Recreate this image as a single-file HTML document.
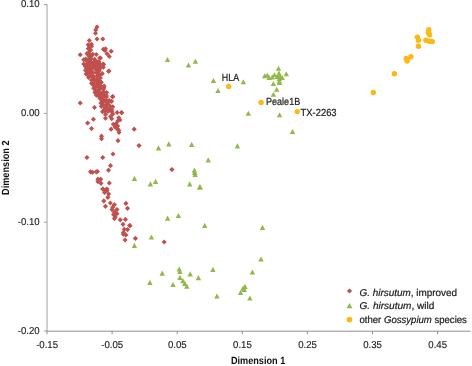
<!DOCTYPE html>
<html><head><meta charset="utf-8"><title>MDS plot</title>
<style>
html,body{margin:0;padding:0;background:#fff;}
body{width:472px;height:366px;overflow:hidden;font-family:"Liberation Sans",sans-serif;}
svg{display:block;}
text{font-family:"Liberation Sans",sans-serif;fill:#1c1c1c;text-rendering:geometricPrecision;}
.g{filter:grayscale(1);}
.t{font-size:10.0px;stroke:#1c1c1c;stroke-width:.15px;}
.b{font-size:10.4px;font-weight:bold;fill:#111;}
.l{font-size:9.9px;stroke:#1c1c1c;stroke-width:.22px;}
.d{font-size:10.3px;stroke:#1c1c1c;stroke-width:.22px;}
</style></head><body>
<svg width="472" height="366" viewBox="0 0 472 366">
<rect width="472" height="366" fill="#fff"/>
<g stroke="#A0A0A0" stroke-width="1" fill="none">
<path d="M47.0 4.1V331.7"/><path stroke="#8E8E8E" d="M46.5 331.2H470.5"/>
<path stroke="#8E8E8E" d="M47.0 331.2v3"/>
<path stroke="#8E8E8E" d="M112.1 331.2v3"/>
<path stroke="#8E8E8E" d="M177.2 331.2v3"/>
<path stroke="#8E8E8E" d="M242.3 331.2v3"/>
<path stroke="#8E8E8E" d="M307.4 331.2v3"/>
<path stroke="#8E8E8E" d="M372.5 331.2v3"/>
<path stroke="#8E8E8E" d="M437.6 331.2v3"/>
<path d="M47.0 4.6h-3.2"/>
<path d="M47.0 113.4h-3.2"/>
<path d="M47.0 222.2h-3.2"/>
<path d="M47.0 331.0h-3.2"/>
</g>
<g class="t g" text-anchor="middle">
<text x="47.1" y="348.3" textLength="21.9" lengthAdjust="spacingAndGlyphs">-0.15</text>
<text x="112.2" y="348.3" textLength="21.9" lengthAdjust="spacingAndGlyphs">-0.05</text>
<text x="177.3" y="348.3" textLength="18.7" lengthAdjust="spacingAndGlyphs">0.05</text>
<text x="242.4" y="348.3" textLength="18.7" lengthAdjust="spacingAndGlyphs">0.15</text>
<text x="307.5" y="348.3" textLength="18.7" lengthAdjust="spacingAndGlyphs">0.25</text>
<text x="372.6" y="348.3" textLength="18.7" lengthAdjust="spacingAndGlyphs">0.35</text>
<text x="437.7" y="348.3" textLength="18.7" lengthAdjust="spacingAndGlyphs">0.45</text>
</g><g class="t g" text-anchor="end">
<text x="39.6" y="7.4" textLength="18.7" lengthAdjust="spacingAndGlyphs">0.10</text>
<text x="39.6" y="116.2" textLength="18.7" lengthAdjust="spacingAndGlyphs">0.00</text>
<text x="39.6" y="225.0" textLength="21.9" lengthAdjust="spacingAndGlyphs">-0.10</text>
<text x="39.6" y="333.8" textLength="21.9" lengthAdjust="spacingAndGlyphs">-0.20</text>
</g>
<text class="b g" text-anchor="middle" x="258.1" y="364.1" textLength="54.4" lengthAdjust="spacingAndGlyphs">Dimension 1</text>
<text class="b g" text-anchor="middle" transform="translate(9.2 167.7) rotate(-90)" textLength="54.5" lengthAdjust="spacingAndGlyphs">Dimension 2</text>
<g fill="#C0504D"><path d="M97.0 24.6L99.5 27.1L97.0 29.7L94.5 27.1Z"/><path d="M95.7 27.3L98.2 29.9L95.7 32.4L93.2 29.9Z"/><path d="M95.5 30.7L98.0 33.3L95.5 35.8L93.0 33.3Z"/><path d="M97.0 36.4L99.5 38.9L97.0 41.4L94.5 38.9Z"/><path d="M102.8 36.4L105.3 38.9L102.8 41.4L100.2 38.9Z"/><path d="M89.3 37.9L91.8 40.4L89.3 42.9L86.8 40.4Z"/><path d="M103.3 46.8L105.8 49.3L103.3 51.8L100.8 49.3Z"/><path d="M105.0 48.1L107.5 50.6L105.0 53.1L102.5 50.6Z"/><path d="M105.5 46.2L108.0 48.8L105.5 51.3L103.0 48.8Z"/><path d="M111.2 48.8L113.8 51.3L111.2 53.8L108.7 51.3Z"/><path d="M107.1 51.2L109.6 53.7L107.1 56.2L104.5 53.7Z"/><path d="M109.3 53.9L111.8 56.4L109.3 58.9L106.8 56.4Z"/><path d="M80.2 52.2L82.8 54.8L80.2 57.3L77.7 54.8Z"/><path d="M96.3 52.0L98.8 54.5L96.3 57.0L93.8 54.5Z"/><path d="M100.5 55.5L103.0 58.0L100.5 60.5L98.0 58.0Z"/><path d="M103.5 62.0L106.0 64.5L103.5 67.0L101.0 64.5Z"/><path d="M102.8 62.0L105.3 64.6L102.8 67.1L100.2 64.6Z"/><path d="M108.9 68.5L111.5 71.1L108.9 73.6L106.4 71.1Z"/><path d="M99.5 55.5L102.0 58.0L99.5 60.5L97.0 58.0Z"/><path d="M83.7 57.2L86.2 59.7L83.7 62.2L81.2 59.7Z"/><path d="M103.3 61.5L105.8 64.0L103.3 66.5L100.8 64.0Z"/><path d="M103.3 64.8L105.8 67.3L103.3 69.8L100.8 67.3Z"/><path d="M108.6 68.8L111.1 71.3L108.6 73.8L106.0 71.3Z"/><path d="M112.6 94.2L115.1 96.8L112.6 99.3L110.0 96.8Z"/><path d="M96.4 92.8L99.0 95.3L96.4 97.8L93.9 95.3Z"/><path d="M112.8 94.0L115.3 96.6L112.8 99.1L110.2 96.6Z"/><path d="M94.5 105.0L97.0 107.6L94.5 110.1L92.0 107.6Z"/><path d="M80.2 100.5L82.8 103.0L80.2 105.5L77.7 103.0Z"/><path d="M121.5 109.9L124.0 112.4L121.5 115.0L119.0 112.4Z"/><path d="M117.1 109.9L119.6 112.4L117.1 115.0L114.5 112.4Z"/><path d="M112.8 111.4L115.3 113.9L112.8 116.5L110.2 113.9Z"/><path d="M105.5 111.9L108.0 114.4L105.5 117.0L103.0 114.4Z"/><path d="M105.5 115.7L108.0 118.2L105.5 120.8L103.0 118.2Z"/><path d="M110.6 114.0L113.1 116.6L110.6 119.1L108.0 116.6Z"/><path d="M111.7 116.2L114.2 118.8L111.7 121.3L109.2 118.8Z"/><path d="M118.8 115.2L121.3 117.7L118.8 120.2L116.2 117.7Z"/><path d="M119.9 117.4L122.5 119.9L119.9 122.5L117.4 119.9Z"/><path d="M117.7 118.5L120.2 121.0L117.7 123.5L115.2 121.0Z"/><path d="M93.4 116.8L96.0 119.3L93.4 121.8L90.9 119.3Z"/><path d="M87.6 120.5L90.1 123.1L87.6 125.6L85.0 123.1Z"/><path d="M91.5 126.0L94.0 128.6L91.5 131.2L89.0 128.6Z"/><path d="M113.3 121.7L115.8 124.2L113.3 126.8L110.8 124.2Z"/><path d="M116.0 121.2L118.5 123.7L116.0 126.2L113.5 123.7Z"/><path d="M117.7 123.4L120.2 125.9L117.7 128.5L115.2 125.9Z"/><path d="M115.0 124.5L117.5 127.0L115.0 129.6L112.5 127.0Z"/><path d="M117.1 126.0L119.6 128.6L117.1 131.2L114.5 128.6Z"/><path d="M118.8 127.8L121.3 130.3L118.8 132.9L116.2 130.3Z"/><path d="M111.1 126.6L113.6 129.2L111.1 131.8L108.5 129.2Z"/><path d="M119.0 129.9L121.5 132.5L119.0 135.1L116.5 132.5Z"/><path d="M101.5 133.6L104.0 136.2L101.5 138.8L99.0 136.2Z"/><path d="M101.5 136.1L104.0 138.7L101.5 141.2L99.0 138.7Z"/><path d="M118.0 138.1L120.5 140.7L118.0 143.2L115.5 140.7Z"/><path d="M113.0 151.4L115.5 154.0L113.0 156.6L110.5 154.0Z"/><path d="M86.9 154.9L89.5 157.5L86.9 160.1L84.4 157.5Z"/><path d="M102.8 154.9L105.3 157.5L102.8 160.1L100.2 157.5Z"/><path d="M110.5 163.1L113.0 165.7L110.5 168.2L108.0 165.7Z"/><path d="M108.5 167.6L111.0 170.2L108.5 172.8L106.0 170.2Z"/><path d="M90.5 169.2L93.0 171.8L90.5 174.4L88.0 171.8Z"/><path d="M92.5 169.8L95.0 172.3L92.5 174.9L90.0 172.3Z"/><path d="M96.2 169.2L98.8 171.8L96.2 174.4L93.7 171.8Z"/><path d="M97.5 168.9L100.0 171.5L97.5 174.1L95.0 171.5Z"/><path d="M97.9 176.6L100.5 179.2L97.9 181.8L95.4 179.2Z"/><path d="M100.7 176.6L103.2 179.2L100.7 181.8L98.2 179.2Z"/><path d="M97.9 179.0L100.5 181.6L97.9 184.2L95.4 181.6Z"/><path d="M101.0 180.8L103.5 183.3L101.0 185.9L98.5 183.3Z"/><path d="M109.3 180.4L111.8 183.0L109.3 185.6L106.8 183.0Z"/><path d="M102.8 186.4L105.3 189.0L102.8 191.6L100.2 189.0Z"/><path d="M106.9 186.4L109.5 189.0L106.9 191.6L104.4 189.0Z"/><path d="M103.0 186.4L105.5 189.0L103.0 191.6L100.5 189.0Z"/><path d="M105.4 187.4L108.0 190.0L105.4 192.6L102.9 190.0Z"/><path d="M107.0 188.1L109.5 190.7L107.0 193.2L104.5 190.7Z"/><path d="M104.6 189.8L107.1 192.4L104.6 195.0L102.0 192.4Z"/><path d="M108.7 191.4L111.2 194.0L108.7 196.6L106.2 194.0Z"/><path d="M107.9 194.8L110.5 197.3L107.9 199.9L105.4 197.3Z"/><path d="M103.8 198.3L106.3 200.9L103.8 203.5L101.2 200.9Z"/><path d="M105.4 203.8L108.0 206.3L105.4 208.9L102.9 206.3Z"/><path d="M110.3 200.4L112.8 203.0L110.3 205.6L107.8 203.0Z"/><path d="M114.4 202.1L117.0 204.7L114.4 207.2L111.9 204.7Z"/><path d="M112.8 204.5L115.3 207.1L112.8 209.7L110.2 207.1Z"/><path d="M112.0 207.0L114.5 209.6L112.0 212.2L109.5 209.6Z"/><path d="M116.9 207.0L119.5 209.6L116.9 212.2L114.4 209.6Z"/><path d="M114.4 209.4L117.0 212.0L114.4 214.6L111.9 212.0Z"/><path d="M116.9 211.1L119.5 213.7L116.9 216.2L114.4 213.7Z"/><path d="M113.6 211.9L116.1 214.5L113.6 217.1L111.0 214.5Z"/><path d="M115.2 214.4L117.8 217.0L115.2 219.6L112.7 217.0Z"/><path d="M114.4 216.0L117.0 218.6L114.4 221.2L111.9 218.6Z"/><path d="M125.9 200.8L128.5 203.4L125.9 206.0L123.4 203.4Z"/><path d="M127.5 205.8L130.1 208.3L127.5 210.9L125.0 208.3Z"/><path d="M120.2 217.2L122.8 219.8L120.2 222.4L117.7 219.8Z"/><path d="M125.4 216.8L128.0 219.4L125.4 222.0L122.9 219.4Z"/><path d="M123.0 221.8L125.5 224.3L123.0 226.9L120.5 224.3Z"/><path d="M129.7 222.9L132.2 225.5L129.7 228.1L127.1 225.5Z"/><path d="M124.3 226.8L126.8 229.3L124.3 231.9L121.8 229.3Z"/><path d="M127.5 227.0L130.1 229.6L127.5 232.2L125.0 229.6Z"/><path d="M123.4 229.9L126.0 232.5L123.4 235.1L120.9 232.5Z"/><path d="M125.9 232.4L128.5 235.0L125.9 237.6L123.4 235.0Z"/><path d="M123.4 231.6L126.0 234.2L123.4 236.8L120.9 234.2Z"/><path d="M125.1 237.4L127.6 240.0L125.1 242.6L122.5 240.0Z"/><path d="M135.4 235.8L138.0 238.4L135.4 241.0L132.8 238.4Z"/><path d="M164.2 239.4L166.8 242.0L164.2 244.6L161.6 242.0Z"/><path d="M130.0 223.1L132.6 225.7L130.0 228.2L127.5 225.7Z"/><path d="M121.8 110.2L124.3 112.8L121.8 115.3L119.2 112.8Z"/><path d="M134.2 126.6L136.8 129.2L134.2 131.8L131.6 129.2Z"/><path d="M139.0 143.0L141.6 145.6L139.0 148.2L136.4 145.6Z"/><path d="M171.9 167.0L174.5 169.6L171.9 172.2L169.3 169.6Z"/><path d="M88.1 42.2L90.7 44.7L88.1 47.3L85.6 44.7Z"/><path d="M91.5 41.7L94.0 44.3L91.5 46.8L88.9 44.3Z"/><path d="M89.5 43.6L92.1 46.2L89.5 48.7L87.0 46.2Z"/><path d="M91.5 43.7L94.1 46.2L91.5 48.8L89.0 46.2Z"/><path d="M88.3 46.1L90.8 48.7L88.3 51.2L85.7 48.7Z"/><path d="M90.7 47.5L93.2 50.0L90.7 52.6L88.1 50.0Z"/><path d="M88.9 49.9L91.4 52.5L88.9 55.0L86.3 52.5Z"/><path d="M87.0 51.0L89.5 53.5L87.0 56.1L84.4 53.5Z"/><path d="M89.7 52.1L92.2 54.6L89.7 57.2L87.1 54.6Z"/><path d="M92.8 51.8L95.4 54.3L92.8 56.9L90.3 54.3Z"/><path d="M88.8 53.3L91.3 55.8L88.8 58.4L86.2 55.8Z"/><path d="M90.9 54.2L93.5 56.8L90.9 59.3L88.4 56.8Z"/><path d="M85.6 56.5L88.1 59.0L85.6 61.6L83.0 59.0Z"/><path d="M88.2 56.8L90.8 59.4L88.2 61.9L85.7 59.4Z"/><path d="M90.8 56.5L93.4 59.0L90.8 61.6L88.3 59.0Z"/><path d="M94.6 56.7L97.1 59.3L94.6 61.8L92.0 59.3Z"/><path d="M86.3 58.1L88.9 60.7L86.3 63.2L83.8 60.7Z"/><path d="M88.7 58.2L91.2 60.7L88.7 63.3L86.1 60.7Z"/><path d="M90.2 59.0L92.8 61.6L90.2 64.1L87.7 61.6Z"/><path d="M93.8 59.4L96.3 61.9L93.8 64.5L91.2 61.9Z"/><path d="M96.7 58.9L99.2 61.5L96.7 64.0L94.1 61.5Z"/><path d="M99.0 59.3L101.5 61.8L99.0 64.4L96.4 61.8Z"/><path d="M83.8 61.4L86.3 64.0L83.8 66.5L81.2 64.0Z"/><path d="M86.9 61.4L89.4 63.9L86.9 66.5L84.3 63.9Z"/><path d="M89.7 60.8L92.3 63.4L89.7 65.9L87.2 63.4Z"/><path d="M92.2 60.4L94.7 62.9L92.2 65.5L89.6 62.9Z"/><path d="M94.1 60.5L96.6 63.1L94.1 65.6L91.5 63.1Z"/><path d="M97.8 60.6L100.3 63.1L97.8 65.7L95.2 63.1Z"/><path d="M99.9 61.7L102.4 64.3L99.9 66.8L97.3 64.3Z"/><path d="M85.3 63.6L87.8 66.2L85.3 68.7L82.7 66.2Z"/><path d="M88.6 64.1L91.1 66.7L88.6 69.2L86.0 66.7Z"/><path d="M90.6 63.3L93.2 65.9L90.6 68.4L88.1 65.9Z"/><path d="M94.2 63.0L96.7 65.5L94.2 68.1L91.6 65.5Z"/><path d="M95.7 63.1L98.3 65.7L95.7 68.2L93.2 65.7Z"/><path d="M99.0 63.2L101.5 65.7L99.0 68.3L96.4 65.7Z"/><path d="M86.7 66.1L89.2 68.6L86.7 71.2L84.1 68.6Z"/><path d="M89.9 66.0L92.5 68.5L89.9 71.1L87.4 68.5Z"/><path d="M92.6 65.2L95.1 67.8L92.6 70.3L90.0 67.8Z"/><path d="M95.4 66.5L98.0 69.1L95.4 71.6L92.9 69.1Z"/><path d="M97.5 65.8L100.1 68.3L97.5 70.9L95.0 68.3Z"/><path d="M100.6 65.2L103.2 67.8L100.6 70.3L98.1 67.8Z"/><path d="M85.6 67.8L88.1 70.4L85.6 72.9L83.0 70.4Z"/><path d="M88.0 67.6L90.6 70.1L88.0 72.7L85.5 70.1Z"/><path d="M90.8 68.1L93.4 70.7L90.8 73.2L88.3 70.7Z"/><path d="M97.0 67.8L99.6 70.3L97.0 72.9L94.5 70.3Z"/><path d="M99.3 68.1L101.8 70.7L99.3 73.2L96.7 70.7Z"/><path d="M86.1 71.5L88.6 74.1L86.1 76.6L83.5 74.1Z"/><path d="M88.2 70.1L90.7 72.6L88.2 75.2L85.6 72.6Z"/><path d="M90.7 70.4L93.2 72.9L90.7 75.5L88.1 72.9Z"/><path d="M93.1 70.0L95.6 72.5L93.1 75.1L90.5 72.5Z"/><path d="M96.4 70.2L98.9 72.7L96.4 75.3L93.8 72.7Z"/><path d="M98.3 70.8L100.8 73.3L98.3 75.9L95.7 73.3Z"/><path d="M102.3 71.1L104.8 73.6L102.3 76.2L99.7 73.6Z"/><path d="M88.3 72.6L90.8 75.2L88.3 77.7L85.7 75.2Z"/><path d="M91.3 73.6L93.8 76.1L91.3 78.7L88.7 76.1Z"/><path d="M93.5 73.6L96.0 76.2L93.5 78.7L90.9 76.2Z"/><path d="M97.2 73.6L99.7 76.2L97.2 78.7L94.6 76.2Z"/><path d="M99.7 72.7L102.2 75.3L99.7 77.8L97.1 75.3Z"/><path d="M88.5 74.8L91.1 77.3L88.5 79.9L86.0 77.3Z"/><path d="M93.8 75.9L96.3 78.4L93.8 81.0L91.2 78.4Z"/><path d="M96.8 76.2L99.3 78.8L96.8 81.3L94.2 78.8Z"/><path d="M100.3 75.3L102.9 77.9L100.3 80.4L97.8 77.9Z"/><path d="M91.4 77.5L94.0 80.0L91.4 82.6L88.9 80.0Z"/><path d="M94.7 78.6L97.3 81.1L94.7 83.7L92.2 81.1Z"/><path d="M97.2 78.2L99.8 80.7L97.2 83.3L94.7 80.7Z"/><path d="M99.3 78.2L101.8 80.8L99.3 83.3L96.7 80.8Z"/><path d="M91.5 80.8L94.1 83.3L91.5 85.9L89.0 83.3Z"/><path d="M93.3 80.8L95.8 83.4L93.3 85.9L90.7 83.4Z"/><path d="M97.0 81.1L99.5 83.7L97.0 86.2L94.4 83.7Z"/><path d="M99.0 81.1L101.6 83.6L99.0 86.2L96.5 83.6Z"/><path d="M101.3 79.8L103.9 82.3L101.3 84.9L98.8 82.3Z"/><path d="M94.0 83.2L96.5 85.8L94.0 88.3L91.4 85.8Z"/><path d="M96.6 83.5L99.1 86.1L96.6 88.6L94.0 86.1Z"/><path d="M98.5 82.8L101.1 85.4L98.5 87.9L96.0 85.4Z"/><path d="M100.7 83.5L103.2 86.1L100.7 88.6L98.1 86.1Z"/><path d="M104.2 83.4L106.7 86.0L104.2 88.5L101.6 86.0Z"/><path d="M93.6 85.7L96.2 88.2L93.6 90.8L91.1 88.2Z"/><path d="M95.4 84.8L97.9 87.4L95.4 89.9L92.8 87.4Z"/><path d="M98.6 84.8L101.1 87.3L98.6 89.9L96.0 87.3Z"/><path d="M100.6 85.8L103.1 88.4L100.6 90.9L98.0 88.4Z"/><path d="M103.8 85.3L106.3 87.8L103.8 90.4L101.2 87.8Z"/><path d="M95.6 88.2L98.2 90.8L95.6 93.3L93.1 90.8Z"/><path d="M98.5 87.6L101.1 90.1L98.5 92.7L96.0 90.1Z"/><path d="M103.3 86.8L105.9 89.3L103.3 91.9L100.8 89.3Z"/><path d="M94.9 89.9L97.5 92.5L94.9 95.0L92.4 92.5Z"/><path d="M98.2 89.7L100.8 92.2L98.2 94.8L95.7 92.2Z"/><path d="M100.9 90.4L103.5 93.0L100.9 95.5L98.4 93.0Z"/><path d="M103.6 89.5L106.2 92.1L103.6 94.6L101.1 92.1Z"/><path d="M106.7 90.0L109.2 92.5L106.7 95.1L104.1 92.5Z"/><path d="M98.6 93.0L101.1 95.6L98.6 98.1L96.0 95.6Z"/><path d="M101.0 92.4L103.6 94.9L101.0 97.5L98.5 94.9Z"/><path d="M103.9 92.3L106.4 94.8L103.9 97.4L101.3 94.8Z"/><path d="M106.2 93.1L108.8 95.6L106.2 98.2L103.7 95.6Z"/><path d="M99.6 95.5L102.2 98.0L99.6 100.6L97.1 98.0Z"/><path d="M101.8 95.5L104.3 98.0L101.8 100.6L99.2 98.0Z"/><path d="M103.8 94.1L106.4 96.7L103.8 99.2L101.3 96.7Z"/><path d="M106.4 94.3L109.0 96.9L106.4 99.4L103.9 96.9Z"/><path d="M101.8 97.6L104.3 100.2L101.8 102.7L99.2 100.2Z"/><path d="M103.6 97.5L106.2 100.0L103.6 102.6L101.1 100.0Z"/><path d="M106.3 97.8L108.9 100.3L106.3 102.9L103.8 100.3Z"/><path d="M109.2 97.9L111.7 100.4L109.2 103.0L106.6 100.4Z"/><path d="M100.9 100.3L103.4 102.9L100.9 105.4L98.3 102.9Z"/><path d="M103.0 99.4L105.6 102.0L103.0 104.5L100.5 102.0Z"/><path d="M106.0 99.1L108.6 101.6L106.0 104.2L103.5 101.6Z"/><path d="M109.3 98.8L111.9 101.3L109.3 103.9L106.8 101.3Z"/><path d="M111.6 98.8L114.1 101.3L111.6 103.9L109.0 101.3Z"/><path d="M103.1 102.0L105.6 104.5L103.1 107.1L100.5 104.5Z"/><path d="M106.4 102.4L108.9 105.0L106.4 107.5L103.8 105.0Z"/><path d="M107.7 101.6L110.2 104.1L107.7 106.7L105.1 104.1Z"/><path d="M101.3 103.8L103.9 106.3L101.3 108.9L98.8 106.3Z"/><path d="M105.0 104.9L107.6 107.4L105.0 110.0L102.5 107.4Z"/><path d="M106.5 105.0L109.1 107.6L106.5 110.1L104.0 107.6Z"/><path d="M110.1 103.7L112.7 106.2L110.1 108.8L107.6 106.2Z"/><path d="M112.8 104.2L115.3 106.8L112.8 109.3L110.2 106.8Z"/><path d="M104.3 107.0L106.8 109.5L104.3 112.1L101.7 109.5Z"/><path d="M105.6 107.3L108.2 109.9L105.6 112.4L103.1 109.9Z"/><path d="M109.6 106.7L112.1 109.2L109.6 111.8L107.0 109.2Z"/><path d="M111.8 107.4L114.3 110.0L111.8 112.5L109.2 110.0Z"/><path d="M102.5 109.2L105.0 111.7L102.5 114.3L99.9 111.7Z"/><path d="M105.1 108.6L107.7 111.2L105.1 113.7L102.6 111.2Z"/><path d="M108.0 108.8L110.5 111.4L108.0 113.9L105.4 111.4Z"/><path d="M111.6 108.8L114.1 111.4L111.6 113.9L109.0 111.4Z"/></g>
<g fill="#93B84A"><path d="M167.5 56.9L170.2 61.9L164.8 61.9Z"/><path d="M188.4 62.5L191.1 67.5L185.7 67.5Z"/><path d="M195.4 58.8L198.1 63.8L192.7 63.8Z"/><path d="M213.4 77.9L216.1 83.0L210.7 83.0Z"/><path d="M218.0 88.0L220.7 93.0L215.3 93.0Z"/><path d="M243.4 79.2L246.1 84.3L240.7 84.3Z"/><path d="M248.3 110.8L251.0 115.8L245.6 115.8Z"/><path d="M158.5 145.2L161.2 150.4L155.8 150.4Z"/><path d="M168.8 141.3L171.5 146.5L166.1 146.5Z"/><path d="M191.7 141.8L194.4 146.9L189.0 146.9Z"/><path d="M237.4 143.2L240.1 148.4L234.7 148.4Z"/><path d="M208.2 157.2L210.9 162.4L205.5 162.4Z"/><path d="M194.4 167.5L197.1 172.7L191.7 172.7Z"/><path d="M194.7 169.8L197.4 174.9L192.0 174.9Z"/><path d="M195.2 171.8L197.9 176.9L192.5 176.9Z"/><path d="M134.4 175.8L137.1 181.0L131.7 181.0Z"/><path d="M150.4 181.2L153.1 186.4L147.7 186.4Z"/><path d="M155.6 178.8L158.3 184.0L152.9 184.0Z"/><path d="M189.7 181.2L192.4 186.4L187.0 186.4Z"/><path d="M199.6 184.2L202.3 189.4L196.9 189.4Z"/><path d="M200.3 184.4L203.0 189.6L197.6 189.6Z"/><path d="M167.6 215.6L170.3 220.8L164.9 220.8Z"/><path d="M178.4 212.9L181.1 218.1L175.7 218.1Z"/><path d="M204.7 222.8L207.4 228.0L202.0 228.0Z"/><path d="M151.4 234.4L154.1 239.6L148.7 239.6Z"/><path d="M134.4 242.8L137.1 248.0L131.7 248.0Z"/><path d="M162.2 270.6L164.9 275.8L159.5 275.8Z"/><path d="M149.9 279.8L152.6 284.9L147.2 284.9Z"/><path d="M173.0 281.9L175.7 287.1L170.3 287.1Z"/><path d="M179.2 266.4L181.9 271.6L176.5 271.6Z"/><path d="M179.9 268.9L182.6 274.1L177.2 274.1Z"/><path d="M179.9 274.8L182.6 279.9L177.2 279.9Z"/><path d="M182.9 278.1L185.6 283.2L180.2 283.2Z"/><path d="M184.8 280.8L187.5 285.9L182.1 285.9Z"/><path d="M186.8 283.6L189.5 288.8L184.1 288.8Z"/><path d="M190.2 271.3L192.9 276.4L187.5 276.4Z"/><path d="M198.4 275.1L201.1 280.2L195.7 280.2Z"/><path d="M212.9 266.8L215.6 271.9L210.2 271.9Z"/><path d="M216.9 293.4L219.6 298.6L214.2 298.6Z"/><path d="M262.5 224.8L265.2 229.9L259.8 229.9Z"/><path d="M261.0 256.4L263.7 261.6L258.3 261.6Z"/><path d="M252.4 269.4L255.1 274.6L249.7 274.6Z"/><path d="M245.0 283.8L247.7 288.9L242.3 288.9Z"/><path d="M243.0 285.6L245.7 290.7L240.3 290.7Z"/><path d="M244.3 286.8L247.0 291.9L241.6 291.9Z"/><path d="M240.6 289.8L243.3 294.9L237.9 294.9Z"/><path d="M249.9 295.4L252.6 300.6L247.2 300.6Z"/><path d="M264.7 73.2L267.4 78.3L262.0 78.3Z"/><path d="M267.3 72.5L270.0 77.6L264.6 77.6Z"/><path d="M269.1 75.0L271.8 80.0L266.4 80.0Z"/><path d="M272.3 74.4L275.0 79.5L269.6 79.5Z"/><path d="M274.5 72.2L277.2 77.2L271.8 77.2Z"/><path d="M278.5 65.8L281.2 70.8L275.8 70.8Z"/><path d="M279.0 70.4L281.7 75.5L276.3 75.5Z"/><path d="M282.2 75.0L284.9 80.1L279.5 80.1Z"/><path d="M279.6 79.9L282.3 85.0L276.9 85.0Z"/><path d="M279.8 73.2L282.5 78.3L277.1 78.3Z"/><path d="M279.3 76.0L282.0 81.1L276.6 81.1Z"/><path d="M279.3 78.7L282.0 83.8L276.6 83.8Z"/><path d="M280.4 74.4L283.1 79.5L277.7 79.5Z"/><path d="M277.2 73.9L279.9 79.0L274.5 79.0Z"/><path d="M286.3 71.2L289.0 76.3L283.6 76.3Z"/><path d="M273.4 80.9L276.1 86.0L270.7 86.0Z"/><path d="M276.7 86.8L279.4 91.8L274.0 91.8Z"/><path d="M273.4 91.8L276.1 96.8L270.7 96.8Z"/><path d="M279.6 112.2L282.3 117.2L276.9 117.2Z"/><path d="M292.5 128.9L295.2 134.1L289.8 134.1Z"/></g>
<g fill="#FDB813"><circle cx="228.7" cy="86.4" r="2.7"/><circle cx="261.1" cy="102.4" r="2.7"/><circle cx="297.3" cy="111.6" r="2.7"/><circle cx="373.3" cy="92.5" r="2.7"/><circle cx="394.4" cy="73.8" r="2.7"/><circle cx="406.2" cy="58.5" r="2.7"/><circle cx="407.2" cy="61.0" r="2.7"/><circle cx="410.9" cy="56.8" r="2.7"/><circle cx="418.5" cy="46.2" r="2.7"/><circle cx="417.3" cy="37.1" r="2.7"/><circle cx="418.5" cy="40.3" r="2.7"/><circle cx="428.8" cy="29.8" r="2.7"/><circle cx="428.4" cy="32.7" r="2.7"/><circle cx="429.6" cy="34.7" r="2.7"/><circle cx="425.9" cy="40.3" r="2.7"/><circle cx="429.3" cy="41.3" r="2.7"/><circle cx="432.3" cy="41.6" r="2.7"/></g>
<g class="d g"><text x="221.8" y="80.7" textLength="17.3" lengthAdjust="spacingAndGlyphs">HLA</text><text x="266.0" y="105.4" textLength="34.2" lengthAdjust="spacingAndGlyphs">Peale1B</text><text x="300.6" y="115.8" textLength="36" lengthAdjust="spacingAndGlyphs">TX-2263</text></g>
<g fill="#C0504D"><path d="M349.5 288.4L352.1 291.0L349.5 293.6L346.9 291.0Z"/></g>
<g fill="#93B84A"><path d="M349.5 303.0L352.4 308.2L346.6 308.2Z"/></g>
<g fill="#FDB813"><circle cx="349.5" cy="319.6" r="2.85"/></g>
<g class="l g"><text x="359.5" y="295.7" textLength="97.5" lengthAdjust="spacingAndGlyphs"><tspan font-style="italic">G. hirsutum</tspan>, improved</text><text x="359.5" y="308.8" textLength="74.9" lengthAdjust="spacingAndGlyphs"><tspan font-style="italic">G. hirsutum</tspan>, wild</text><text x="359.5" y="322.5" textLength="107.4" lengthAdjust="spacingAndGlyphs">other <tspan font-style="italic">Gossypium</tspan> species</text></g>
</svg></body></html>
